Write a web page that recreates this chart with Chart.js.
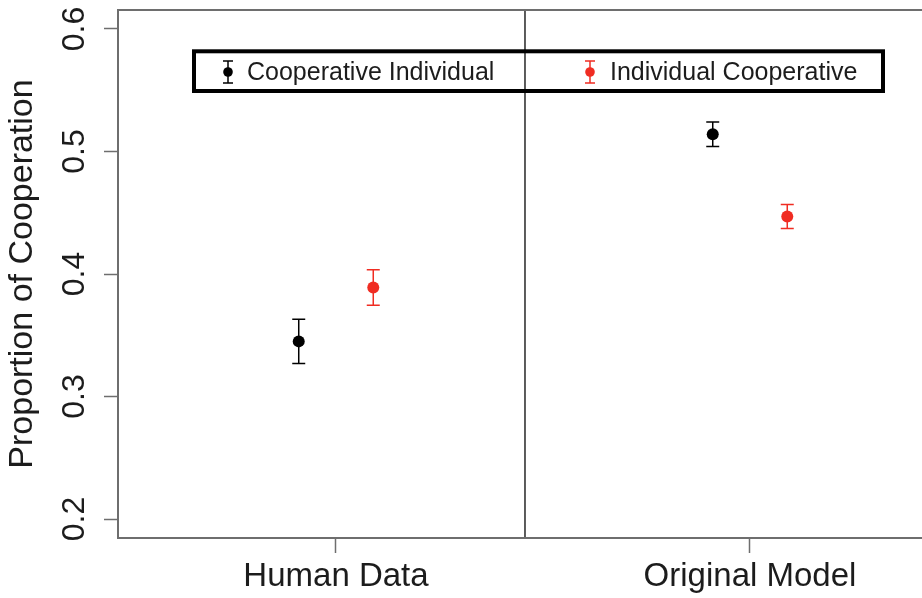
<!DOCTYPE html>
<html>
<head>
<meta charset="utf-8">
<script src="https://cdn.jsdelivr.net/npm/chart.js@4.4.1/dist/chart.umd.min.js"></script>
<style>
  html, body { margin: 0; padding: 0; background: #fff; overflow: hidden; }
  #wrap { width: 922px; height: 598px; position: relative; }
</style>
</head>
<body>
<div id="wrap"><canvas id="c" width="922" height="598"></canvas></div>
<script>
// Group labels along the x axis
const categories = ['Human Data', 'Original Model'];
// Series names (legend order)
const seriesNames = ['Cooperative Individual', 'Individual Cooperative'];
// Mean proportion of cooperation and half-width of the error bar
const coopIndMean = [0.345, 0.514];
const coopIndErr  = [0.018, 0.010];
const indCoopMean = [0.389, 0.447];
const indCoopErr  = [0.0145, 0.0098];
// Axis ticks
const yTicks = [0.2, 0.3, 0.4, 0.5, 0.6];
const yTickLabels = ['0.2', '0.3', '0.4', '0.5', '0.6'];
const xTicks = [1, 2];

const FONT = '"Liberation Sans", Arial, Helvetica, sans-serif';
const TEXT = '#1c1c1c';
const FRAME = '#6e6e6e';
const RED = 'rgb(240,44,34)';
const DODGE = 0.09;          // horizontal shift of each series around its group
const DIVIDER_X = 1.4565;    // vertical separator between the two panels
const X_MIN = 0.47343, X_MAX = 2.41546;
const Y_MIN = 0.1845, Y_MAX = 0.6155;

function points(means, shift) {
  return means.map((v, i) => ({ x: xTicks[i] + shift, y: v }));
}

// Frame, panel separator, error bars, rotated y labels and the boxed legend
const decorations = {
  id: 'decorations',
  beforeDatasetsDraw(chart) {
    const { ctx, chartArea: a, scales: { x, y } } = chart;
    ctx.save();
    // separator
    const dx = x.getPixelForValue(DIVIDER_X);
    ctx.strokeStyle = '#262626';
    ctx.lineWidth = 1.5;
    ctx.beginPath();
    ctx.moveTo(dx, a.top);
    ctx.lineTo(dx, a.bottom);
    ctx.stroke();
    // error bars
    chart.data.datasets.forEach((ds) => {
      ctx.strokeStyle = ds.borderColor;
      ctx.lineWidth = 1.5;
      ds.data.forEach((p, i) => {
        const px = x.getPixelForValue(p.x);
        const top = y.getPixelForValue(p.y + ds.errors[i]);
        const bot = y.getPixelForValue(p.y - ds.errors[i]);
        ctx.beginPath();
        ctx.moveTo(px, top); ctx.lineTo(px, bot);
        ctx.moveTo(px - 6.5, top); ctx.lineTo(px + 6.5, top);
        ctx.moveTo(px - 6.5, bot); ctx.lineTo(px + 6.5, bot);
        ctx.stroke();
      });
    });
    ctx.restore();
  },
  afterDraw(chart) {
    const { ctx, chartArea: a, scales: { y } } = chart;
    ctx.save();
    // open-right frame
    ctx.strokeStyle = FRAME;
    ctx.lineWidth = 2;
    ctx.beginPath();
    ctx.moveTo(chart.width + 2, a.top);
    ctx.lineTo(a.left, a.top);
    ctx.lineTo(a.left, a.bottom);
    ctx.lineTo(chart.width + 2, a.bottom);
    ctx.stroke();
    // y tick labels, reading bottom to top
    ctx.fillStyle = TEXT;
    ctx.font = '32px ' + FONT;
    ctx.textAlign = 'center';
    ctx.textBaseline = 'middle';
    yTicks.forEach((v, i) => {
      ctx.save();
      ctx.translate(75, y.getPixelForValue(v));
      ctx.rotate(-Math.PI / 2);
      ctx.fillText(yTickLabels[i], 0, 0);
      ctx.restore();
    });
    // legend box
    ctx.strokeStyle = '#000';
    ctx.lineWidth = 4;
    ctx.strokeRect(194, 51.3, 689, 39.7);
    const items = [
      { x: 228, color: '#000', text: seriesNames[0], tx: 247 },
      { x: 590, color: RED, text: seriesNames[1], tx: 610 }
    ];
    ctx.font = '25px ' + FONT;
    ctx.textAlign = 'left';
    ctx.textBaseline = 'alphabetic';
    items.forEach((it) => {
      ctx.strokeStyle = it.color;
      ctx.fillStyle = it.color;
      ctx.lineWidth = 1.5;
      ctx.beginPath();
      ctx.moveTo(it.x, 61); ctx.lineTo(it.x, 83);
      ctx.moveTo(it.x - 5, 61); ctx.lineTo(it.x + 5, 61);
      ctx.moveTo(it.x - 5, 83); ctx.lineTo(it.x + 5, 83);
      ctx.stroke();
      ctx.beginPath();
      ctx.arc(it.x, 72, 4.8, 0, Math.PI * 2);
      ctx.fill();
      ctx.fillStyle = TEXT;
      ctx.fillText(it.text, it.tx, 79.5);
    });
    ctx.restore();
  }
};

new Chart(document.getElementById('c'), {
  type: 'scatter',
  data: {
    datasets: [
      {
        label: seriesNames[0],
        data: points(coopIndMean, -DODGE),
        errors: coopIndErr,
        backgroundColor: '#000',
        borderColor: '#000',
        pointRadius: 6,
        pointBorderWidth: 0
      },
      {
        label: seriesNames[1],
        data: points(indCoopMean, DODGE),
        errors: indCoopErr,
        backgroundColor: RED,
        borderColor: RED,
        pointRadius: 6,
        pointBorderWidth: 0
      }
    ]
  },
  options: {
    responsive: false,
    devicePixelRatio: 1,
    animation: false,
    layout: { autoPadding: false, padding: { top: 10, left: 0, right: 0, bottom: 0 } },
    plugins: { legend: { display: false }, tooltip: { enabled: false } },
    scales: {
      x: {
        type: 'linear',
        min: X_MIN,
        max: X_MAX,
        afterBuildTicks: (s) => { s.ticks = xTicks.map((v) => ({ value: v })); },
        afterFit: (s) => { s.height = 60; },
        border: { display: false },
        grid: { drawOnChartArea: false, drawTicks: true, tickLength: 15, tickColor: FRAME, tickWidth: 1.5 },
        ticks: {
          autoSkip: false,
          maxRotation: 0,
          padding: 4,
          color: TEXT,
          font: { family: FONT, size: 33 },
          callback: (v, i) => categories[i]
        }
      },
      y: {
        type: 'linear',
        min: Y_MIN,
        max: Y_MAX,
        afterBuildTicks: (s) => { s.ticks = yTicks.map((v) => ({ value: v })); },
        afterFit: (s) => { s.width = 118; },
        border: { display: false },
        grid: { drawOnChartArea: false, drawTicks: true, tickLength: 14, tickColor: FRAME, tickWidth: 1.5 },
        ticks: { display: false },
        title: {
          display: true,
          text: 'Proportion of Cooperation',
          color: TEXT,
          font: { family: FONT, size: 34 },
          padding: { top: 2, bottom: 0 }
        }
      }
    }
  },
  plugins: [decorations]
});
</script>
</body>
</html>
